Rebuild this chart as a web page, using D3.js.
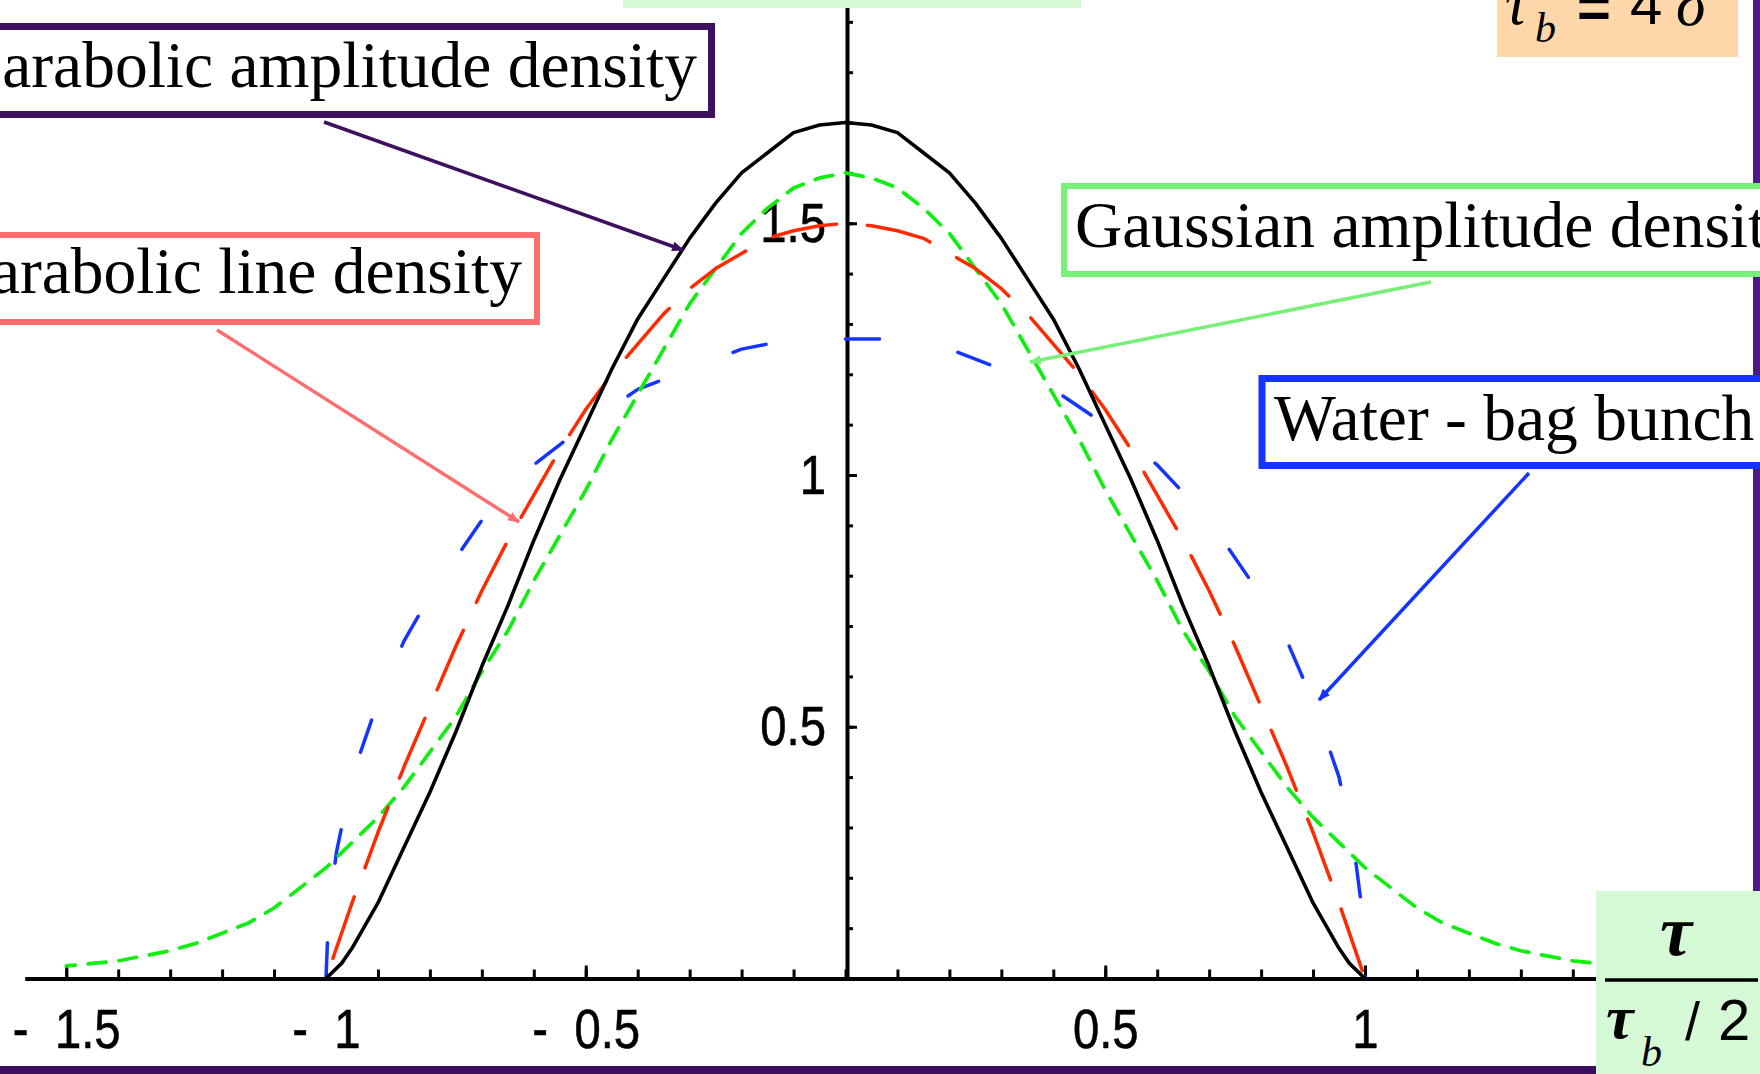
<!DOCTYPE html>
<html>
<head>
<meta charset="utf-8">
<script src="https://cdn.jsdelivr.net/npm/d3@7"></script>
<style>
  body { margin: 0; background: #fff; overflow: hidden; }
  svg { display: block; }
  .tick text { font-family: "Liberation Sans", Arial, sans-serif; font-size: 55px; fill: #000; stroke: #000; stroke-width: 0.6px; }
  .callout { font-family: "Liberation Serif", "Times New Roman", serif; font-size: 65.5px; fill: #000; }
</style>
</head>
<body>
<script>
// x in units of tau / (tau_b / 2), y = line density

// parabolic amplitude density (black, solid)
const parabolicAmpX = [-1, -0.97, -0.95, -0.9, -0.85, -0.8, -0.75, -0.7, -0.65, -0.6, -0.55, -0.5, -0.45, -0.4, -0.35, -0.3, -0.25, -0.2, -0.15, -0.1, -0.05, 0,
                       0.05, 0.1, 0.15, 0.2, 0.25, 0.3, 0.35, 0.4, 0.45, 0.5, 0.55, 0.6, 0.65, 0.7, 0.75, 0.8, 0.85, 0.9, 0.95, 0.97, 1];
const parabolicAmpY = [0, 0.03, 0.06, 0.15, 0.26, 0.37, 0.49, 0.62, 0.74, 0.87, 0.99, 1.10, 1.21, 1.31, 1.39, 1.47, 1.54, 1.60, 1.64, 1.68, 1.695, 1.70,
                       1.695, 1.68, 1.64, 1.60, 1.54, 1.47, 1.39, 1.31, 1.21, 1.10, 0.99, 0.87, 0.74, 0.62, 0.49, 0.37, 0.26, 0.15, 0.06, 0.03, 0];

// parabolic line density (red, long dashes)
const parabolicLineX = [-1, -0.95, -0.9, -0.85, -0.8, -0.75, -0.7, -0.65, -0.6, -0.55, -0.5, -0.45, -0.4, -0.35, -0.3, -0.25, -0.2, -0.15, -0.1, -0.05, 0,
                        0.05, 0.1, 0.15, 0.2, 0.25, 0.3, 0.35, 0.4, 0.45, 0.5, 0.55, 0.6, 0.65, 0.7, 0.75, 0.8, 0.85, 0.9, 0.95, 1];
const parabolicLineY = [0, 0.15, 0.29, 0.42, 0.54, 0.66, 0.77, 0.87, 0.96, 1.05, 1.13, 1.20, 1.26, 1.32, 1.37, 1.41, 1.44, 1.47, 1.485, 1.495, 1.50,
                        1.495, 1.485, 1.47, 1.44, 1.41, 1.37, 1.32, 1.26, 1.20, 1.13, 1.05, 0.96, 0.87, 0.77, 0.66, 0.54, 0.42, 0.29, 0.15, 0];

// water-bag bunch (blue, sparse dashes)
const waterBagX = [-1, -0.995, -0.98, -0.95, -0.9, -0.85, -0.8, -0.7, -0.6, -0.5, -0.4, -0.3, -0.2, -0.1, 0,
                   0.1, 0.2, 0.3, 0.4, 0.5, 0.6, 0.7, 0.8, 0.85, 0.9, 0.95, 0.98, 0.995, 1];
const waterBagY = [0, 0.13, 0.25, 0.40, 0.55, 0.67, 0.76, 0.91, 1.02, 1.10, 1.17, 1.21, 1.25, 1.27, 1.27,
                   1.27, 1.25, 1.21, 1.17, 1.10, 1.02, 0.91, 0.76, 0.67, 0.55, 0.40, 0.25, 0.13, 0];

// gaussian amplitude density (green, short dashes)
const gaussX = [-1.5, -1.45, -1.4, -1.35, -1.3, -1.25, -1.2, -1.15, -1.1, -1.05, -1, -0.95, -0.9, -0.85, -0.8, -0.75, -0.7, -0.65, -0.6, -0.55,
                -0.5, -0.45, -0.4, -0.35, -0.3, -0.25, -0.2, -0.15, -0.1, -0.05, 0, 0.05, 0.1, 0.15, 0.2, 0.25, 0.3, 0.35, 0.4, 0.45,
                0.5, 0.55, 0.6, 0.65, 0.7, 0.75, 0.8, 0.85, 0.9, 0.95, 1, 1.05, 1.1, 1.15, 1.2, 1.25, 1.3, 1.35, 1.4, 1.45, 1.5];
const gaussY = [0.025, 0.03, 0.035, 0.045, 0.055, 0.07, 0.09, 0.11, 0.14, 0.18, 0.22, 0.27, 0.32, 0.38, 0.45, 0.52, 0.61, 0.69, 0.79, 0.88,
                0.97, 1.07, 1.16, 1.25, 1.34, 1.41, 1.48, 1.53, 1.57, 1.59, 1.60, 1.59, 1.57, 1.53, 1.48, 1.41, 1.34, 1.25, 1.16, 1.07,
                0.97, 0.88, 0.79, 0.69, 0.61, 0.52, 0.45, 0.38, 0.32, 0.27, 0.22, 0.18, 0.14, 0.11, 0.09, 0.07, 0.055, 0.045, 0.035, 0.03, 0.025];

// ticks
const xMinorTicks = d3.range(-15, 15).map(i => i / 10);
const xLabelTicks = [-1.5, -1, -0.5, 0.5, 1];
const xLabelText = ["-  1.5", "-  1", "-  0.5", "0.5", "1"];
const yMinorTicks = d3.range(1, 20).map(i => i / 10);
const yLabelTicks = [0.5, 1, 1.5];
const yLabelText = ["0.5", "1", "1.5"];

const W = 1760, H = 1074;
const labelSqueeze = 0.86;   // tick labels are a tall, narrow face
const svg = d3.select("body").append("svg").attr("width", W).attr("height", H);

const x = d3.scaleLinear().domain([-1, 1]).range([326, 1365]);
const y = d3.scaleLinear().domain([0, 1]).range([978.5, 475]);

// ---- axes
const xAxisScale = x.copy().domain([-1.58, 1.5]).range([x(-1.58), x(1.5)]);
const yAxisScale = y.copy().domain([0, 1.96]).range([y(0), y(1.96)]);

const gx = svg.append("g").attr("transform", `translate(0,${y(0)})`);
gx.call(d3.axisBottom(xAxisScale).tickValues(xMinorTicks).tickSize(-9).tickSizeOuter(0).tickFormat(""));
const gxl = svg.append("g").attr("transform", `translate(0,${y(0)})`);
gxl.call(d3.axisBottom(xAxisScale).tickValues(xLabelTicks).tickSize(-13).tickSizeOuter(0)
    .tickFormat((d, i) => xLabelText[i]));
gxl.select(".domain").remove();
gxl.selectAll(".tick text").attr("y", 70).attr("dy", null)
    .style("white-space", "pre")
    .attr("transform", `scale(${labelSqueeze},1)`);

const gy = svg.append("g").attr("transform", `translate(${x(0) + 1.5},0)`);
gy.call(d3.axisLeft(yAxisScale).tickValues(yMinorTicks).tickSize(-6).tickSizeOuter(0).tickFormat(""));
const gyl = svg.append("g").attr("transform", `translate(${x(0) + 1.5},0)`);
gyl.call(d3.axisLeft(yAxisScale).tickValues(yLabelTicks).tickSize(-10).tickSizeOuter(0)
    .tickFormat((d, i) => yLabelText[i]));
gyl.select(".domain").remove();
gyl.selectAll(".tick text").attr("x", -21 / labelSqueeze).attr("dy", "0.33em")
    .attr("transform", `scale(${labelSqueeze},1)`);

svg.selectAll(".domain").attr("stroke", "#000").attr("stroke-width", 4);
svg.selectAll(".tick line").attr("stroke", "#000").attr("stroke-width", 3);

// ---- curves
const plot = svg.append("g");
const lineGen = d3.line().x(d => x(d[0])).y(d => y(d[1]));

function drawCurve(xs, ys, color, width, dash, phaseAtZero) {
    const pts = xs.map((v, i) => [v, ys[i]]);
    const p = plot.append("path")
        .attr("d", lineGen(pts))
        .attr("fill", "none")
        .attr("stroke", color)
        .attr("stroke-width", width)
        .attr("stroke-linejoin", "round")
        .attr("stroke-linecap", "round");
    if (dash) {
        const period = dash[0] + dash[1];
        const tmp = plot.append("path").attr("d", lineGen(pts.filter(d => d[0] <= 0)));
        const L = tmp.node().getTotalLength();
        tmp.remove();
        const off = ((phaseAtZero - L) % period + period) % period;
        p.attr("stroke-dasharray", dash.join(",")).attr("stroke-dashoffset", off);
    }
}

drawCurve(waterBagX, waterBagY, "#1535ff", 3.5, [34, 80], 0);
drawCurve(gaussX, gaussY, "#10ee10", 3.7, [18, 13], 0);
drawCurve(parabolicLineX, parabolicLineY, "#ff2a00", 3.5, [65, 31], 74);
drawCurve(parabolicAmpX, parabolicAmpY, "#000", 3.6, null, 0);

// ---- frame bits
svg.append("rect").attr("x", 1753).attr("y", 0).attr("width", 7).attr("height", 900).attr("fill", "#4e1a8a");
svg.append("rect").attr("x", 0).attr("y", 1066).attr("width", W).attr("height", 8).attr("fill", "#3b0f5f");
svg.append("rect").attr("x", 623).attr("y", 0).attr("width", 458).attr("height", 8).attr("fill", "#d5f8d5");

// ---- callouts
const defs = svg.append("defs");
function marker(id, color) {
    defs.append("marker").attr("id", id)
        .attr("viewBox", "0 -5 10 10").attr("refX", 9).attr("refY", 0)
        .attr("markerUnits", "userSpaceOnUse").attr("markerWidth", 14).attr("markerHeight", 12)
        .attr("orient", "auto")
        .append("path").attr("d", "M0,-4L10,0L0,4Z").attr("fill", color);
}

const callouts = [
    {text: "Parabolic amplitude density", color: "#3d1060", box: [-20, 26.5, 731.5, 88], sw: 7,
     tx: 697, ty: 87, anchor: "end", line: [324, 122, 683, 250]},
    {text: "Parabolic line density", color: "#ff6e6e", box: [-20, 235, 557, 87], sw: 6,
     tx: 522, ty: 293, anchor: "end", line: [217, 330, 519, 522]},
    {text: "Gaussian amplitude density", color: "#78f078", box: [1064, 186, 720, 88], sw: 6,
     tx: 1075, ty: 247, anchor: "start", line: [1431, 282, 1030, 362]},
    {text: "Water - bag bunch", color: "#1535ff", box: [1262, 378.5, 520, 87], sw: 7,
     tx: 1274, ty: 440, anchor: "start", line: [1529, 473, 1319, 700]}
];

callouts.forEach((c, i) => {
    marker("arr" + i, c.color);
    svg.append("rect")
        .attr("x", c.box[0]).attr("y", c.box[1]).attr("width", c.box[2]).attr("height", c.box[3])
        .attr("fill", "#fff").attr("stroke", c.color).attr("stroke-width", c.sw);
    svg.append("text").attr("class", "callout")
        .attr("x", c.tx).attr("y", c.ty).attr("text-anchor", c.anchor)
        .text(c.text);
    svg.append("line")
        .attr("x1", c.line[0]).attr("y1", c.line[1]).attr("x2", c.line[2]).attr("y2", c.line[3])
        .attr("stroke", c.color).attr("stroke-width", 3.5)
        .attr("marker-end", `url(#arr${i})`);
});

// ---- tau_b = 4 sigma box (top right)
svg.append("rect").attr("x", 1497).attr("y", 0).attr("width", 241).attr("height", 57).attr("fill", "#fdd6a9");
const serifIt = "'Liberation Serif', 'Times New Roman', serif";
const sans = "'Liberation Sans', Arial, sans-serif";
svg.append("text").attr("x", 1505).attr("y", 24).attr("font-family", serifIt).attr("font-style", "italic")
    .attr("font-size", 62).text("τ");
svg.append("text").attr("x", 1535).attr("y", 42).attr("font-family", serifIt).attr("font-style", "italic")
    .attr("font-size", 42).text("b");
svg.append("text").attr("x", 1577).attr("y", 27).attr("font-family", sans).attr("font-weight", "bold")
    .attr("font-size", 58).text("=");
svg.append("text").attr("x", 1630).attr("y", 24).attr("font-family", sans)
    .attr("font-size", 58).text("4");
svg.append("text").attr("x", 1676).attr("y", 25).attr("font-family", serifIt).attr("font-style", "italic")
    .attr("font-size", 62).text("σ");

// ---- axis label box tau / (tau_b / 2)
svg.append("rect").attr("x", 1596).attr("y", 891).attr("width", 164).attr("height", 183).attr("fill", "#d5f8d5");
svg.append("text").attr("x", 1676).attr("y", 955).attr("text-anchor", "middle")
    .attr("font-family", serifIt).attr("font-style", "italic").attr("font-weight", "bold")
    .attr("font-size", 72).text("τ");
svg.append("line").attr("x1", 1605).attr("x2", 1758).attr("y1", 980).attr("y2", 980)
    .attr("stroke", "#000").attr("stroke-width", 3.5);
svg.append("text").attr("x", 1606).attr("y", 1038)
    .attr("font-family", serifIt).attr("font-style", "italic").attr("font-weight", "bold")
    .attr("font-size", 62).text("τ");
svg.append("text").attr("x", 1641).attr("y", 1066)
    .attr("font-family", serifIt).attr("font-style", "italic").attr("font-size", 42).text("b");
svg.append("text").attr("x", 1685).attr("y", 1040).attr("font-family", sans).attr("font-size", 54).text("/");
svg.append("text").attr("x", 1718).attr("y", 1040).attr("font-family", sans).attr("font-size", 58).text("2");
</script>
</body>
</html>
